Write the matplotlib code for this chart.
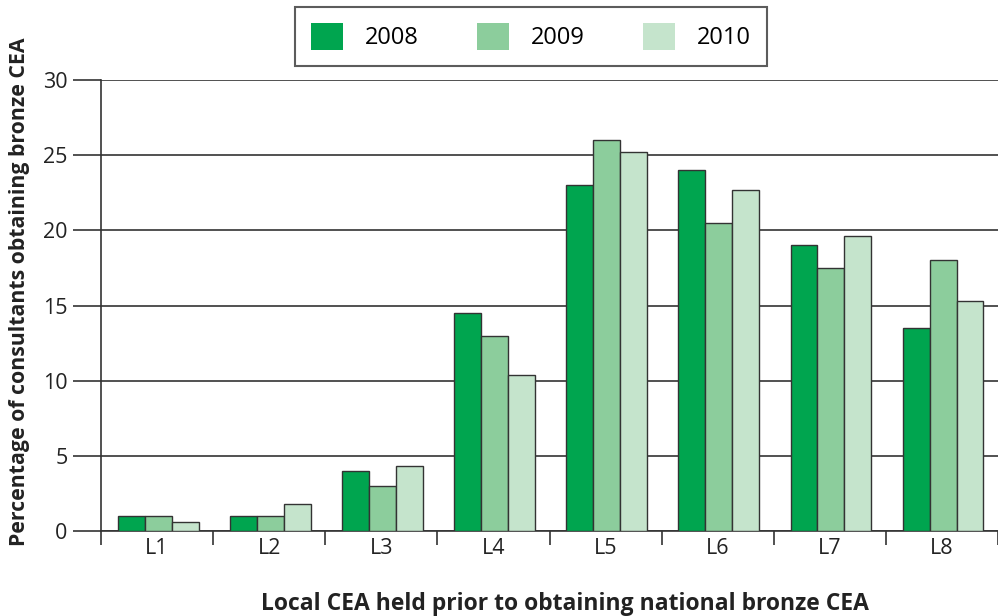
import matplotlib
matplotlib.use("Agg")
import matplotlib.pyplot as plt
import numpy as np
from matplotlib.patches import Patch

categories = ["L1", "L2", "L3", "L4", "L5", "L6", "L7", "L8"]
years = ["2008", "2009", "2010"]
v2008 = [1.0, 1.0, 4.0, 14.5, 23.0, 24.0, 19.0, 13.5]
v2009 = [1.0, 1.0, 3.0, 13.0, 26.0, 20.5, 17.5, 18.0]
v2010 = [0.6, 1.8, 4.3, 10.4, 25.2, 22.7, 19.6, 15.3]
colors = ["#00a54f", "#8ccd9c", "#c5e4cc"]

plt.rcParams['font.family'] = ['Open Sans', 'DejaVu Sans']

fig = plt.figure(figsize=(9.98, 6.16), dpi=100)
ax = fig.add_axes([101/998, 85/616, 897/998, 451/616])

x = np.arange(len(categories))
w = 0.24
for i, (vals, c) in enumerate(zip([v2008, v2009, v2010], colors)):
    ax.bar(x + (i - 1) * w + 0.01, vals, w, color=c, edgecolor="#333333", linewidth=1.0, zorder=3)

ax.set_xlim(-0.5, len(categories) - 0.5)
ax.set_ylim(0, 30)
ax.set_yticks([0, 5, 10, 15, 20, 25, 30])
ax.yaxis.grid(True, color="#333333", linewidth=1.2, zorder=0)
ax.set_axisbelow(True)
for s in ["top", "right"]:
    ax.spines[s].set_visible(False)
ax.spines["left"].set_color("#333333")
ax.spines["bottom"].set_color("#333333")
ax.spines["left"].set_linewidth(1.2)
ax.spines["bottom"].set_linewidth(1.2)

ax.set_xticks(x)
ax.set_xticklabels(categories)
ax.tick_params(axis="x", which="major", length=0, labelsize=15.5, colors="#222222", pad=5)
ax.set_xticks(np.arange(len(categories) + 1) - 0.5, minor=True)
ax.tick_params(axis="x", which="minor", length=10, width=1.2, color="#333333", direction="out")
ax.tick_params(axis="y", length=20, width=1.2, color="#333333", labelsize=15.5, labelcolor="#222222", pad=4)

ax.set_ylabel("Percentage of consultants obtaining bronze CEA", fontsize=15.3, fontweight="bold", color="#222222")
ax.yaxis.set_label_coords(-0.079, 0.53)
ax.set_xlabel("Local CEA held prior to obtaining national bronze CEA", fontsize=16.5, fontweight="bold", color="#222222")
ax.xaxis.set_label_coords(0.517, -0.135)

handles = [Patch(facecolor=c, edgecolor="none") for c in colors]
leg = fig.legend(handles, years, loc="upper center", bbox_to_anchor=(531/998, 1 - 7/616), ncol=3,
                 fontsize=17, frameon=True, fancybox=False, edgecolor="#333333",
                 handlelength=1.35, handleheight=1.35, columnspacing=2.5, handletextpad=0.9,
                 borderpad=0.68, borderaxespad=0)
leg.get_frame().set_linewidth(1.5)

fig.savefig("out.png", dpi=100)
